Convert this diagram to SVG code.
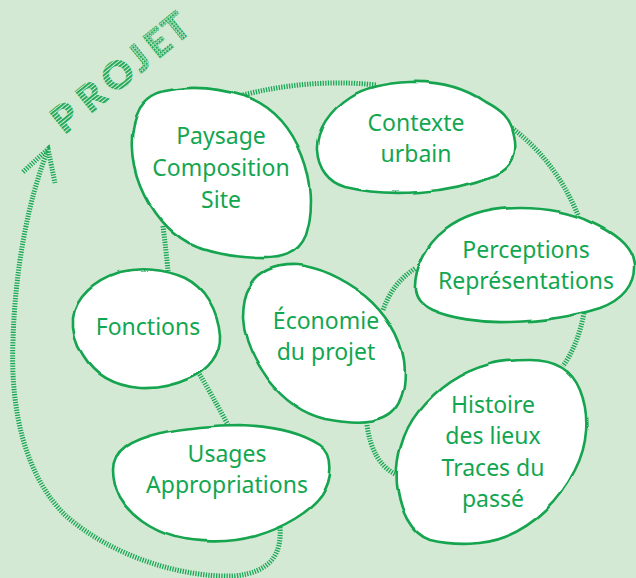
<svg xmlns="http://www.w3.org/2000/svg" width="636" height="578" viewBox="0 0 636 578">
  <defs>
    <pattern id="stripes" patternUnits="userSpaceOnUse" width="3" height="3">
      <rect x="0" y="0" width="3" height="1.8" fill="#14a651"/>
    </pattern>
    <pattern id="grid" patternUnits="userSpaceOnUse" width="3" height="3">
      <rect x="0" y="0" width="1.9" height="1.9" fill="#14a651"/>
      <rect x="1.5" y="1.5" width="1.5" height="1.5" fill="#14a651" opacity="0.5"/>
    </pattern>
    <filter id="wob" x="-5%" y="-5%" width="110%" height="110%">
      <feTurbulence type="fractalNoise" baseFrequency="0.025" numOctaves="1" seed="5" result="n"/>
      <feDisplacementMap in="SourceGraphic" in2="n" scale="4" xChannelSelector="R" yChannelSelector="G"/>
    </filter>
  </defs>
  <style>
    .blob { fill: #ffffff; stroke: #13a44f; stroke-width: 2.6; stroke-linejoin: round; filter: url(#wob); }
    .lbl { font-family: "Noto Sans", "Open Sans", sans-serif; font-size: 23px; fill: #13a650; text-anchor: middle; }
    .hatch { fill: none; stroke: #1aa755; stroke-width: 5; stroke-dasharray: 1.3 1.3; }
    .title { font-family: "Lato", "Liberation Sans", sans-serif; font-weight: 900; font-size: 38px; }
  </style>
  <rect width="636" height="578" fill="#d3e9d4"/>

  <g id="connectors">
    <path class="hatch" d="M243,95 Q310,78 377,85"/>
    <path class="hatch" d="M512,128 Q555,160 578,215"/>
    <path class="hatch" d="M584,313 Q578,345 563,366"/>
    <path class="hatch" d="M367,425 Q372,462 395,474"/>
    <path class="hatch" d="M383,310 Q393,282 416,268"/>
    <path class="hatch" d="M163,226 Q166,250 168,271"/>
    <path class="hatch" d="M197,370 Q212,395 228,425"/>
    <path class="hatch" d="M280,527 C282,555 270,572 235,576 C180,578 110,555 65,515 C25,475 10,410 13,340 C15,270 28,200 48,150"/>
    <path class="hatch" d="M23,172 L48,149 L55,183"/>
  </g>

  <g id="title">
    <g transform="translate(65,117) rotate(-39)">
      <text class="title" y="14" x="-12 21 52 86 108 131" stroke-width="0.8"><tspan fill="url(#stripes)" stroke="url(#stripes)">PRO</tspan><tspan fill="url(#grid)" stroke="url(#grid)">JET</tspan></text>
    </g>
  </g>

  <g id="node-paysage">
    <path class="blob" d="M177,89 C200,86 225,90 245,96 C270,105 290,125 302,155 C312,180 314,210 306,235 C298,255 280,259 258,258 C235,257 210,254 190,244 C168,232 150,210 140,185 C130,160 128,130 140,108 C150,93 162,91 177,89 Z"/>
    <text class="lbl" x="221" y="144">Paysage</text>
    <text class="lbl" x="221" y="176">Composition</text>
    <text class="lbl" x="221" y="208">Site</text>
  </g>

  <g id="node-contexte">
    <path class="blob" d="M317,150 C316,130 330,110 350,97 C365,87 385,83 410,82 C440,81 465,88 485,102 C500,110 510,118 513,135 C517,152 512,168 495,175 C475,183 450,190 420,192 C395,194 370,193 345,187 C328,182 318,168 317,150 Z"/>
    <text class="lbl" x="416" y="131">Contexte</text>
    <text class="lbl" x="416" y="162">urbain</text>
  </g>

  <g id="node-perceptions">
    <path class="blob" d="M415,290 C414,270 425,245 445,230 C465,215 490,208 520,208 C545,208 570,212 590,222 C612,232 632,245 634,265 C635,285 622,300 600,308 C575,316 545,321 510,322 C480,323 450,318 432,310 C420,304 416,298 415,290 Z"/>
    <text class="lbl" x="526" y="258">Perceptions</text>
    <text class="lbl" x="526" y="289">Représentations</text>
  </g>

  <g id="node-fonctions">
    <path class="blob" d="M73,318 C75,298 95,280 120,272 C140,267 165,269 185,278 C205,288 218,310 220,335 C221,355 208,370 190,378 C175,385 160,389 140,388 C115,386 95,375 83,355 C75,343 72,330 73,318 Z"/>
    <text class="lbl" x="148" y="335">Fonctions</text>
  </g>

  <g id="node-economie">
    <path class="blob" d="M250,287 C256,272 275,264 297,265 C320,267 345,280 365,295 C385,312 400,335 404,360 C407,385 402,410 383,418 C368,425 345,423 325,419 C300,413 282,398 268,380 C255,362 244,340 243,318 C243,305 245,295 250,287 Z"/>
    <text class="lbl" x="326" y="329">Économie</text>
    <text class="lbl" x="326" y="360">du projet</text>
  </g>

  <g id="node-histoire">
    <path class="blob" d="M530,360 C555,360 572,370 580,390 C590,415 588,445 575,470 C560,500 535,525 505,537 C485,545 455,546 430,540 C410,533 400,510 397,485 C395,460 402,432 418,412 C435,390 460,372 490,364 C505,360 518,360 530,360 Z"/>
    <text class="lbl" x="493" y="413">Histoire</text>
    <text class="lbl" x="493" y="444">des lieux</text>
    <text class="lbl" x="493" y="476">Traces du</text>
    <text class="lbl" x="493" y="507">passé</text>
  </g>

  <g id="node-usages">
    <path class="blob" d="M113,470 C113,450 130,440 160,433 C185,428 210,425 240,425 C270,426 300,432 320,445 C335,455 332,480 322,495 C310,512 285,527 255,536 C230,543 200,543 175,537 C150,530 130,515 120,498 C115,488 113,480 113,470 Z"/>
    <text class="lbl" x="227" y="462">Usages</text>
    <text class="lbl" x="227" y="493">Appropriations</text>
  </g>
</svg>
